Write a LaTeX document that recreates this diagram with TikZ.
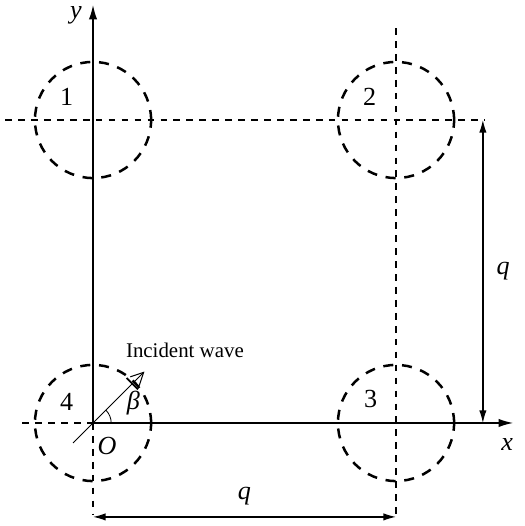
\documentclass[tikz,border=0pt]{standalone}
\usepackage{amsmath,amssymb}
\usepackage{fontspec}
\setmainfont{Liberation Serif}
\usetikzlibrary{arrows.meta,calc}

\begin{document}
\begin{tikzpicture}[x=1.7cm,y=1.7cm,
  axis/.style={line width=0.7pt},
  guide/.style={line width=0.5pt, dash pattern=on 3.2pt off 3pt},
  scatterer/.style={line width=1.2pt, dash pattern=on 4.8pt off 4.2pt},
  dimline/.style={line width=0.6pt, {Latex[length=6pt,width=3.5pt]}-{Latex[length=6pt,width=3.5pt]}},
  lab/.style={font=\fontsize{12.5}{14}\selectfont\itshape},
  num/.style={font=\fontsize{12.5}{14}\selectfont}]
\useasboundingbox (-0.921,-1.020) rectangle (4.277,4.188);
% centres of the cylinders
\coordinate (O) at (0,0);
\coordinate (c1) at (0,3);
\coordinate (c2) at (3,3);
\coordinate (c3) at (3,0);
% guide lines
\draw[guide] (-0.70,0) -- (O);
\draw[guide] (O) -- (0,-0.91);
\draw[guide] (-0.87,3) -- (3.88,3);
\draw[guide] (3,3.91) -- (3,-0.91);
% axes
\draw[axis, -{Latex[length=7pt,width=4pt]}] (O) -- (4.16,0) coordinate (xend);
\draw[axis, -{Latex[length=7pt,width=4pt]}] (O) -- (0,4.14) coordinate (yend);
\node[lab] (xlab) at (4.10,-0.21) {x};
\node[lab, anchor=north, inner sep=1pt] (ylab) at (-0.17,4.15) {y};
\node[lab] (olab) at (0.14,-0.23) {O};
% scatterers
\foreach \c/\n in {c1/1, c2/2, c3/3, O/4} {
  \draw[scatterer] (\c) circle (0.575);
}
\node[num] (n1) at (-0.26,3.23) {1};
\node[num] (n2) at (2.74,3.23) {2};
\node[num] (n3) at (2.75,0.24) {3};
\node[num] (n4) at (-0.26,0.21) {4};
% incident wave
\coordinate (wtail) at (225:0.28);
\coordinate (whead) at (45:0.72);
\draw[line width=0.5pt, -{Straight Barb[length=6pt,width=6pt]}] (wtail) -- (whead);
\draw[line width=0.9pt] ($(45:0.55)+(135:0.08)$) -- ($(45:0.55)+(-45:0.08)$);
\draw[line width=0.4pt] (0.18,0) arc (0:45:0.18);
\node[lab] (beta) at (0.40,0.20) {β};
\node (wave) at (0.91,0.72) {Incident wave};
% spacings
\coordinate (h1) at (0,-0.93);
\coordinate (h2) at (3,-0.93);
\draw[dimline] (h1) -- (h2) node[lab, midway, above=2pt] (qh) {q};
\coordinate (v1) at (3.86,3);
\coordinate (v2) at (3.86,0);
\draw[dimline] (v1) -- (v2) node[lab, midway, right=3pt] (qv) {q};
\end{tikzpicture}
\end{document}
